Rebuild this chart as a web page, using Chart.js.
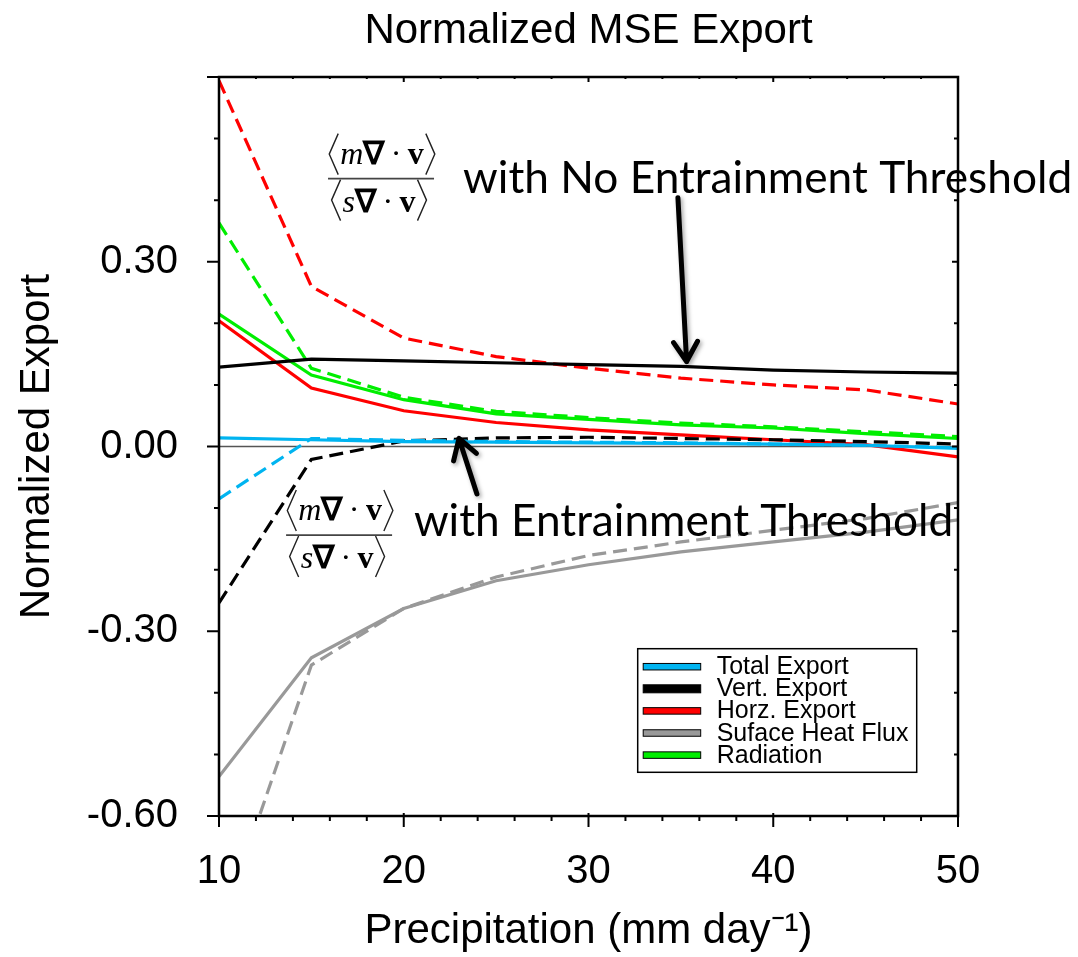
<!DOCTYPE html>
<html><head><meta charset="utf-8">
<script src="https://cdn.jsdelivr.net/npm/chart.js@4.4.1/dist/chart.umd.min.js"></script>
<style>html,body{margin:0;padding:0;background:#fff;} #wrap{width:1078px;height:957px;position:relative;}</style>
</head><body><div id="wrap"><canvas id="c"></canvas></div>
<script>
// ---------- data ----------
const precip = [10, 15, 20, 25, 30, 35, 40, 45, 50];
const seriesNames = ['Total Export', 'Vert. Export', 'Horz. Export', 'Suface Heat Flux', 'Radiation'];
// solid = no entrainment threshold, dashed = with entrainment threshold
const totalNoThr = [0.014, 0.011, 0.008, 0.007, 0.006, 0.005, 0.004, 0.002, -0.003];
const totalThr   = [-0.085, 0.013, 0.010, 0.008, 0.007, 0.006, 0.004, 0.002, -0.002];
const vertNoThr  = [0.129, 0.142, 0.139, 0.136, 0.133, 0.130, 0.124, 0.121, 0.119];
const vertThr    = [-0.254, -0.021, 0.009, 0.014, 0.015, 0.013, 0.011, 0.008, 0.004];
const horzNoThr  = [0.204, 0.095, 0.058, 0.039, 0.027, 0.019, 0.011, 0.003, -0.017];
const horzThr    = [0.594, 0.260, 0.176, 0.146, 0.127, 0.111, 0.100, 0.092, 0.069];
const sfcNoThr   = [-0.536, -0.343, -0.263, -0.218, -0.192, -0.171, -0.155, -0.139, -0.119];
const sfcThr     = [-0.790, -0.355, -0.263, -0.212, -0.177, -0.155, -0.136, -0.117, -0.091];
const radNoThr   = [0.215, 0.116, 0.076, 0.053, 0.044, 0.035, 0.030, 0.021, 0.013];
const radThr     = [0.363, 0.127, 0.080, 0.057, 0.047, 0.038, 0.032, 0.024, 0.016];

const yMajorValues = [-0.6, -0.3, 0.0, 0.3];
const yTickLabels  = ['-0.60', '-0.30', '0.00', '0.30'];
const xMajorValues = [10, 20, 30, 40, 50];
const xTickLabels  = ['10', '20', '30', '40', '50'];

const chartTitle = 'Normalized MSE Export';
const xTitle = 'Precipitation (mm day\u207B\u00B9)';
const yTitle = 'Normalized Export';
const noteNoThr = 'with No Entrainment Threshold';
const noteThr = 'with Entrainment Threshold';

// ---------- styles ----------
const colors = ['#00b4f0', '#000000', '#ff0000', '#999999', '#00ee00'];
const SANS = '"Liberation Sans", Arial, Helvetica, sans-serif';
const SERIF = '"Liberation Serif", "Times New Roman", serif';
const NOTE_FONT = 'Lato, "Open Sans", sans-serif';

const pts = arr => precip.map((x, i) => ({x, y: arr[i]}));
const noThr = [totalNoThr, vertNoThr, horzNoThr, sfcNoThr, radNoThr];
const thr = [totalThr, vertThr, horzThr, sfcThr, radThr];
const datasets = [];
seriesNames.forEach((name, i) => {
  datasets.push({label: name, data: pts(noThr[i]), borderColor: colors[i], borderWidth: 3.2,
    pointRadius: 0, fill: false, tension: 0});
  datasets.push({label: name + ' (entrainment threshold)', data: pts(thr[i]), borderColor: colors[i], borderWidth: 3.2,
    borderDash: [14, 7], pointRadius: 0, fill: false, tension: 0});
});

// annotation anchors (data coordinates)
const notes = {
  fracTop: {x: 18.77, y: 0.435},
  fracBot: {x: 16.50, y: -0.1438},
  textTop: {x: 23.21, y: 0.412, xEnd: 56.18},
  textBot: {x: 20.55, y: -0.146, xEnd: 49.74},
  arrowTop: {x1: 34.84, y1: 0.404, x2: 35.31, y2: 0.138},
  arrowBot: {x1: 23.96, y1: -0.077, x2: 22.99, y2: 0.013}
};

function fitText(ctx, text, x, y, targetW, size) {
  ctx.save();
  ctx.font = size + 'px ' + NOTE_FONT;
  const w = ctx.measureText(text).width;
  ctx.translate(x, y);
  ctx.scale(targetW / w, 1);
  ctx.textAlign = 'left'; ctx.textBaseline = 'alphabetic';
  ctx.fillStyle = '#000';
  ctx.fillText(text, 0, 0);
  ctx.restore();
}

function drawRow(ctx, parts, cx, baseline, brTop, brBot) {
  let w = 0;
  parts.forEach(p => { ctx.font = p.f; p.w = ctx.measureText(p.t).width; w += p.w; });
  let x = cx - w / 2;
  ctx.textBaseline = 'alphabetic'; ctx.textAlign = 'left';
  parts.forEach(p => { ctx.font = p.f; ctx.fillText(p.t, x, baseline); x += p.w; });
  const lx = cx - w / 2 - 2, rx = cx + w / 2 + 2;
  const mid = (brTop + brBot) / 2;
  ctx.beginPath();
  ctx.moveTo(lx, brTop); ctx.lineTo(lx - 9, mid); ctx.lineTo(lx, brBot);
  ctx.moveTo(rx, brTop); ctx.lineTo(rx + 9, mid); ctx.lineTo(rx, brBot);
  ctx.stroke();
}

function drawFrac(ctx, cx, by) {
  ctx.save();
  ctx.fillStyle = '#000'; ctx.strokeStyle = '#222'; ctx.lineWidth = 1.4;
  const s = 32;
  const it = 'italic ' + s + 'px ' + SERIF, bd = 'bold ' + s + 'px ' + SERIF, rg = s + 'px ' + SERIF;
  const num = [{t: 'm', f: it}, {t: '\u2207', f: bd}, {t: '\u2009\u00B7\u2009', f: rg}, {t: 'v', f: bd}];
  const den = [{t: 's', f: it}, {t: '\u2207', f: bd}, {t: '\u2009\u00B7\u2009', f: rg}, {t: 'v', f: bd}];
  drawRow(ctx, num, cx + 1, by - 15, by - 45, by - 4);
  drawRow(ctx, den, cx - 2, by + 33, by + 1, by + 42);
  ctx.lineWidth = 1.8; ctx.strokeStyle = '#444';
  ctx.beginPath(); ctx.moveTo(cx - 53, by); ctx.lineTo(cx + 53, by); ctx.stroke();
  ctx.restore();
}

function drawArrow(ctx, x1, y1, x2, y2) {
  const ang = Math.atan2(y2 - y1, x2 - x1);
  const hl = 23, ha = 0.55;
  ctx.save();
  ctx.strokeStyle = '#000'; ctx.lineWidth = 5; ctx.lineCap = 'round'; ctx.lineJoin = 'round';
  ctx.shadowColor = 'rgba(0,0,0,0.35)'; ctx.shadowBlur = 4; ctx.shadowOffsetX = 2; ctx.shadowOffsetY = 2;
  ctx.beginPath();
  ctx.moveTo(x1, y1); ctx.lineTo(x2, y2);
  ctx.moveTo(x2 - hl * Math.cos(ang - ha), y2 - hl * Math.sin(ang - ha));
  ctx.lineTo(x2, y2);
  ctx.lineTo(x2 - hl * Math.cos(ang + ha), y2 - hl * Math.sin(ang + ha));
  ctx.stroke();
  ctx.restore();
}

const deco = {
  id: 'deco',
  beforeDatasetsDraw(chart) {
    const {ctx, chartArea: a, scales: {y}} = chart;
    const y0 = y.getPixelForValue(0);
    ctx.save(); ctx.strokeStyle = '#555'; ctx.lineWidth = 1.6;
    ctx.beginPath(); ctx.moveTo(a.left, y0); ctx.lineTo(a.right, y0); ctx.stroke();
    ctx.restore();
  },
  afterDraw(chart) {
    const {ctx, chartArea: a, scales: {x, y}} = chart;
    ctx.save();
    // frame
    ctx.strokeStyle = '#000'; ctx.lineWidth = 2.5;
    ctx.strokeRect(a.left, a.top, a.right - a.left, a.bottom - a.top);
    // y ticks
    ctx.lineWidth = 2;
    for (let k = -6; k <= 6; k++) {
      const py = y.getPixelForValue(k / 10);
      const major = k % 3 === 0;
      ctx.beginPath();
      ctx.moveTo(a.left - (major ? 12 : 5), py); ctx.lineTo(a.left, py);
      ctx.moveTo(a.right, py); ctx.lineTo(a.right - (major ? 6 : 4), py);
      ctx.stroke();
    }
    // x ticks
    for (let v = 10; v <= 50; v += 2) {
      const px = x.getPixelForValue(v);
      const major = v % 10 === 0;
      ctx.beginPath();
      ctx.moveTo(px, a.bottom - (major ? 3 : 0)); ctx.lineTo(px, a.bottom + (major ? 11 : 5));
      ctx.moveTo(px, a.top); ctx.lineTo(px, a.top + (major ? 5 : 2));
      ctx.stroke();
    }
    // title
    ctx.fillStyle = '#000';
    ctx.font = '42px ' + SANS; ctx.textAlign = 'center'; ctx.textBaseline = 'alphabetic';
    ctx.fillText(chartTitle, (a.left + a.right) / 2, 43);
    ctx.restore();

    // fractions
    drawFrac(ctx, x.getPixelForValue(notes.fracTop.x), y.getPixelForValue(notes.fracTop.y));
    drawFrac(ctx, x.getPixelForValue(notes.fracBot.x), y.getPixelForValue(notes.fracBot.y));
    // notes
    let t = notes.textTop;
    fitText(ctx, noteNoThr, x.getPixelForValue(t.x), y.getPixelForValue(t.y),
            x.getPixelForValue(t.xEnd) - x.getPixelForValue(t.x), 45);
    t = notes.textBot;
    fitText(ctx, noteThr, x.getPixelForValue(t.x), y.getPixelForValue(t.y),
            x.getPixelForValue(t.xEnd) - x.getPixelForValue(t.x), 45);
    // arrows
    let r = notes.arrowTop;
    drawArrow(ctx, x.getPixelForValue(r.x1), y.getPixelForValue(r.y1), x.getPixelForValue(r.x2), y.getPixelForValue(r.y2));
    r = notes.arrowBot;
    drawArrow(ctx, x.getPixelForValue(r.x1), y.getPixelForValue(r.y1), x.getPixelForValue(r.x2), y.getPixelForValue(r.y2));

    // legend
    ctx.save();
    const bl = a.right - 320.3, bt = a.bottom - 167.3, bw = 279, bh = 123.6;
    ctx.fillStyle = '#fff'; ctx.fillRect(bl, bt, bw, bh);
    ctx.strokeStyle = '#000'; ctx.lineWidth = 1.5; ctx.strokeRect(bl, bt, bw, bh);
    ctx.font = '25px ' + SANS; ctx.textAlign = 'left'; ctx.textBaseline = 'alphabetic';
    seriesNames.forEach((name, i) => {
      const cy = bt + 18 + i * 22.1;
      const sx = bl + 5.5, sw = 57.5, sh = (i === 1 ? 8 : 6.5);
      ctx.fillStyle = colors[i];
      ctx.fillRect(sx, cy - sh / 2, sw, sh);
      ctx.lineWidth = 1; ctx.strokeStyle = '#000';
      ctx.strokeRect(sx, cy - sh / 2, sw, sh);
      ctx.fillStyle = '#000';
      ctx.fillText(name, bl + 79, cy + 7.5);
    });
    ctx.restore();
  }
};

function pick(values, labels, v) {
  const i = values.findIndex(m => Math.abs(m - v) < 1e-6);
  return i >= 0 ? labels[i] : '';
}

Chart.defaults.color = '#000';
new Chart(document.getElementById('c'), {
  type: 'line',
  data: {datasets},
  options: {
    responsive: true, maintainAspectRatio: false, animation: false, devicePixelRatio: 1,
    layout: {padding: {left: 0, right: 120, top: 77, bottom: 0}},
    plugins: {legend: {display: false}, title: {display: false}, tooltip: {enabled: false}},
    scales: {
      x: {
        type: 'linear', min: 10, max: 50,
        afterFit(s) { s.height = 141; },
        grid: {display: false, drawTicks: false},
        border: {display: false},
        ticks: {stepSize: 2, autoSkip: false, maxRotation: 0, padding: 32,
          font: {family: SANS, size: 40},
          callback: v => pick(xMajorValues, xTickLabels, v)},
        title: {display: true, text: xTitle, font: {family: SANS, size: 42}, padding: {top: 0, bottom: 0}}
      },
      y: {
        type: 'linear', min: -0.6, max: 0.6,
        afterFit(s) { s.width = 219; },
        grid: {display: false, drawTicks: false},
        border: {display: false},
        ticks: {stepSize: 0.1, autoSkip: false, padding: 41,
          font: {family: SANS, size: 40},
          callback: v => pick(yMajorValues, yTickLabels, v)},
        title: {display: true, text: yTitle, font: {family: SANS, size: 42}, padding: {top: 12, bottom: 0}}
      }
    }
  },
  plugins: [deco]
});
</script>
</body></html>
